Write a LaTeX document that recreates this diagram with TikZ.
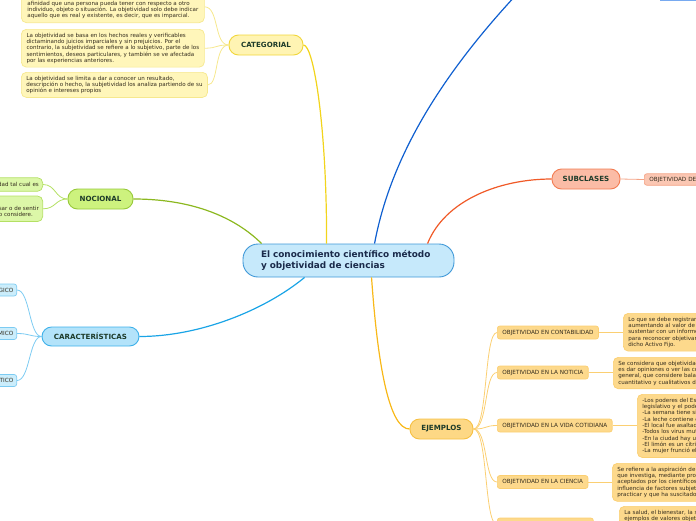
\documentclass[tikz,border=0pt]{standalone}
\usepackage{fontspec}
\setmainfont{DejaVu Sans}
\definecolor{cenF}{HTML}{C6E9FB}
\definecolor{cenB}{HTML}{3F98D8}
\definecolor{navy}{HTML}{1A2A4A}
\definecolor{tcol}{HTML}{1D3B2A}
\definecolor{ccol}{HTML}{352D1E}
\definecolor{catF}{HTML}{FFF4B3}
\definecolor{catB}{HTML}{F1D63A}
\definecolor{catcF}{HTML}{FFF6BA}
\definecolor{catcB}{HTML}{F6E88E}
\definecolor{nocF}{HTML}{CDF27E}
\definecolor{nocB}{HTML}{97C93A}
\definecolor{noccF}{HTML}{DCF7A8}
\definecolor{noccB}{HTML}{B4E064}
\definecolor{carF}{HTML}{B3E3FA}
\definecolor{carB}{HTML}{3EB1EA}
\definecolor{carcF}{HTML}{CBEDFB}
\definecolor{carcB}{HTML}{7CCBF2}
\definecolor{subF}{HTML}{FBBCA6}
\definecolor{subB}{HTML}{F27C52}
\definecolor{subcF}{HTML}{FBC7B3}
\definecolor{subcB}{HTML}{F4A385}
\definecolor{ejeF}{HTML}{FDD885}
\definecolor{ejeB}{HTML}{F6C043}
\definecolor{ejecF}{HTML}{FDD98C}
\definecolor{ejecB}{HTML}{FBCF72}
\definecolor{lnY}{HTML}{F2D41C}
\definecolor{lnB}{HTML}{0F5FD0}
\definecolor{lnR}{HTML}{F05A28}
\definecolor{lnG}{HTML}{8CB820}
\definecolor{lnC}{HTML}{1AA4E6}
\definecolor{lnO}{HTML}{F8B818}
\definecolor{topB}{HTML}{78AAF0}
\begin{document}
\begin{tikzpicture}[x=1pt,y=-1pt,
  conn/.style={line width=1.2pt},
  sconn/.style={line width=0.8pt},
  topic/.style={draw, line width=0.9pt, rounded corners=9.5pt, minimum height=20pt, inner sep=0pt, text=tcol, font=\fontsize{7.1}{8}\selectfont\bfseries},
  lbl/.style={draw, line width=0.7pt, rounded corners=2.5pt, minimum height=13pt, inner xsep=5pt, inner ysep=0pt, text=ccol, font=\fontsize{5.7}{6.5}\selectfont, anchor=west},
  det/.style={draw, line width=0.7pt, rounded corners=5pt, align=left, inner xsep=5pt, inner ysep=3.5pt, text=ccol, font=\fontsize{5.55}{6.35}\selectfont},
  frag/.style={text=ccol, inner sep=0pt, font=\fontsize{5.55}{6.35}\selectfont},
]
\useasboundingbox (0,0) rectangle (696,520);
\clip (0,0) rectangle (696,520);

% central
\node[draw=cenB, fill=cenF, line width=0.9pt, rounded corners=15pt, minimum width=211pt, minimum height=33pt,
      text width=175pt, inner xsep=18pt, align=left, text=navy, font=\fontsize{8.9}{11}\selectfont\bfseries]
  (c) at (348.5,260.5) {El conocimiento científico método\\y objetividad de ciencias};

% main topics
\node[topic, draw=catB, fill=catF, minimum width=74pt] (cat) at (266,45) {CATEGORIAL};
\node[topic, draw=nocB, fill=nocF, minimum width=65pt] (noc) at (100.5,199) {NOCIONAL};
\node[topic, draw=carB, fill=carF, minimum width=97pt, minimum height=19pt] (car) at (90.5,336.5) {CARACTERÍSTICAS};
\node[topic, draw=subB, fill=subF, minimum width=68pt] (sub) at (586,179) {SUBCLASES};
\node[topic, draw=ejeB, fill=ejeF, minimum width=63pt] (eje) at (441.5,429) {EJEMPLOS};
\node[draw=topB, fill=cenF, line width=0.9pt, anchor=south west, minimum width=60pt, minimum height=20pt] (top) at (660,0.6) {};
\coordinate (topin) at (545,-35);

% main connectors
\draw[conn, lnY] ([xshift=84pt]c.north west) .. controls (327,130) and (314,45) .. (cat.east);
\draw[conn, lnB] ([xshift=132pt]c.north west) .. controls (392,150) and (450,60) .. (topin);
\draw[conn, lnR] ([xshift=185pt]c.north west) .. controls (445,200) and (500,179) .. (sub.west);
\draw[conn, lnG] (noc.east) .. controls (200,199) and (240,222) .. ([xshift=19pt]c.north west);
\draw[conn, lnC] ([xshift=62pt]c.south west) .. controls (265,310) and (200,336.5) .. (car.east);
\draw[conn, lnO] ([xshift=129pt]c.south west) .. controls (378,370) and (390,429) .. (eje.west);

% CATEGORIAL children
\node[det, draw=catcB, fill=catcF, minimum width=183pt, anchor=south west] (k1) at (21,23)
 {La subjetividad está asociada a los sentimientos y a la\\afinidad que una persona pueda tener con respecto a otro\\individuo, objeto o situación. La objetividad solo debe indicar\\aquello que es real y existente, es decir, que es imparcial.};
\node[det, draw=catcB, fill=catcF, minimum width=183pt, anchor=north west] (k2) at (21,29)
 {La objetividad se basa en los hechos reales y verificables\\dictaminando juicios imparciales y sin prejuicios. Por el\\contrario, la subjetividad se refiere a lo subjetivo, parte de los\\sentimientos, deseos particulares, y también se ve afectada\\por las experiencias anteriores.};
\node[det, draw=catcB, fill=catcF, minimum width=183pt, anchor=north west] (k3) at (21,72)
 {La objetividad se limita a dar a conocer un resultado,\\descripción o hecho, la subjetividad los analiza partiendo de su\\opinión e intereses propios};
\draw[sconn, catcB] (cat.west) .. controls (214,45) and (219,7) .. (k1.east);
\draw[sconn, catcB] (cat.west) .. controls (214,45) and (219,48) .. (k2.east);
\draw[sconn, catcB] (cat.west) .. controls (214,45) and (219,85) .. (k3.east);

% NOCIONAL children
\node[det, draw=noccB, fill=noccF, anchor=east, minimum width=70pt, minimum height=13.5pt] (nA) at (43,184.5) {};
\node[det, draw=noccB, fill=noccF, anchor=east, minimum width=70pt, minimum height=25.5pt] (nB) at (43,208.8) {};
\node[frag, anchor=base east] (nAt) at (39,186.3) {realidad tal cual es};
\node[frag, anchor=base east] (nBt2) at (39,210.5) {de pensar o de sentir};
\node[frag, anchor=base east] (nBt3) at (33,216.7) {o considere.};
\draw[sconn, noccB] (noc.west) .. controls (55,199) and (56,184.5) .. (nA.east);
\draw[sconn, noccB] (noc.west) .. controls (55,199) and (56,208.8) .. (nB.east);

% CARACTERISTICAS children
\node[lbl, draw=carcB, fill=carcF, anchor=east, minimum width=50pt, minimum height=12pt] (q1) at (17,290) {};
\node[lbl, draw=carcB, fill=carcF, anchor=east, minimum width=50pt, minimum height=12pt] (q2) at (17,333.5) {};
\node[lbl, draw=carcB, fill=carcF, anchor=east, minimum width=50pt, minimum height=12pt] (q3) at (17,380.5) {};
\node[frag, anchor=east, font=\fontsize{5.7}{6.5}\selectfont] (q1t) at (13.5,290) {GICO};
\node[frag, anchor=east, font=\fontsize{5.7}{6.5}\selectfont] (q2t) at (13.5,333.5) {MICO};
\node[frag, anchor=east, font=\fontsize{5.7}{6.5}\selectfont] (q3t) at (13.5,380.5) {TICO};
\draw[sconn, carcB] (car.west) .. controls (29,336.5) and (30,290) .. (q1.east);
\draw[sconn, carcB] (car.west) .. controls (29,336.5) and (30,333.5) .. (q2.east);
\draw[sconn, carcB] (car.west) .. controls (29,336.5) and (30,380.5) .. (q3.east);

% SUBCLASES child
\node[lbl, draw=subcB, fill=subcF, text width=70pt, align=left, minimum height=11.5pt] (s1) at (644,179.5) {OBJETIVIDAD DE};
\draw[sconn, subcB] (sub.east) -- (s1.west);

% EJEMPLOS children
\node[lbl, draw=ejecB, fill=ejecF] (e1) at (497,332.5) {OBJETIVIDAD EN CONTABILIDAD};
\node[lbl, draw=ejecB, fill=ejecF] (e2) at (497,372.5) {OBJETIVIDAD EN LA NOTICIA};
\node[lbl, draw=ejecB, fill=ejecF] (e3) at (497,425.5) {OBJETIVIDAD EN LA VIDA COTIDIANA};
\node[lbl, draw=ejecB, fill=ejecF] (e4) at (497,482) {OBJETIVIDAD EN LA CIENCIA};
\node[lbl, draw=ejecB, fill=ejecF, minimum width=96pt] (e5) at (497,524.5) {};
\foreach \e/\y in {e1/332.5, e2/372.5, e3/425.5, e4/482, e5/524.5}
  \draw[sconn, ejecB] (eje.east) .. controls (488,429) and (484,\y) .. (\e.west);

\node[det, draw=ejecB, fill=ejecF, text width=110pt, anchor=north west] (d1) at (623,313)
 {Lo que se debe registrar es\\aumentando al valor de este\\sustentar con un informe\\para reconocer objetivamente\\dicho Activo Fijo.};
\node[det, draw=ejecB, fill=ejecF, text width=110pt, anchor=north west] (d2) at (613,357)
 {Se considera que objetividad\\es dar opiniones o ver las cosas\\general, que considere balance\\cuantitativo y cualitativos de};
\node[det, draw=ejecB, fill=ejecF, text width=110pt, anchor=north west] (d3) at (637,394)
 {-Los poderes del Estado\\legislativo y el poder\\-La semana tiene siete\\-La leche contiene calcio\\-El local fue asaltado\\-Todos los virus mutan\\-En la ciudad hay un\\-El limón es un cítrico\\-La mujer frunció el};
\node[det, draw=ejecB, fill=ejecF, text width=110pt, anchor=north west] (d4) at (612,463)
 {Se refiere a la aspiración de\\que investiga, mediante proceso\\aceptados por los científicos\\influencia de factores subjetivos\\practicar y que ha suscitado};
\node[det, draw=ejecB, fill=ejecF, text width=110pt, anchor=north west] (d5) at (619,506)
 {La salud, el bienestar, la seguridad\\ejemplos de valores objetivos\\};
\draw[sconn, ejecB] (e1.east) -- (d1.west |- e1.east);
\draw[sconn, ejecB] (e2.east) -- (d2.west |- e2.east);
\draw[sconn, ejecB] (e3.east) -- (d3.west |- e3.east);
\draw[sconn, ejecB] (e4.east) -- (d4.west |- e4.east);
\draw[sconn, ejecB] (e5.east) -- (d5.west |- e5.east);
\end{tikzpicture}
\end{document}
